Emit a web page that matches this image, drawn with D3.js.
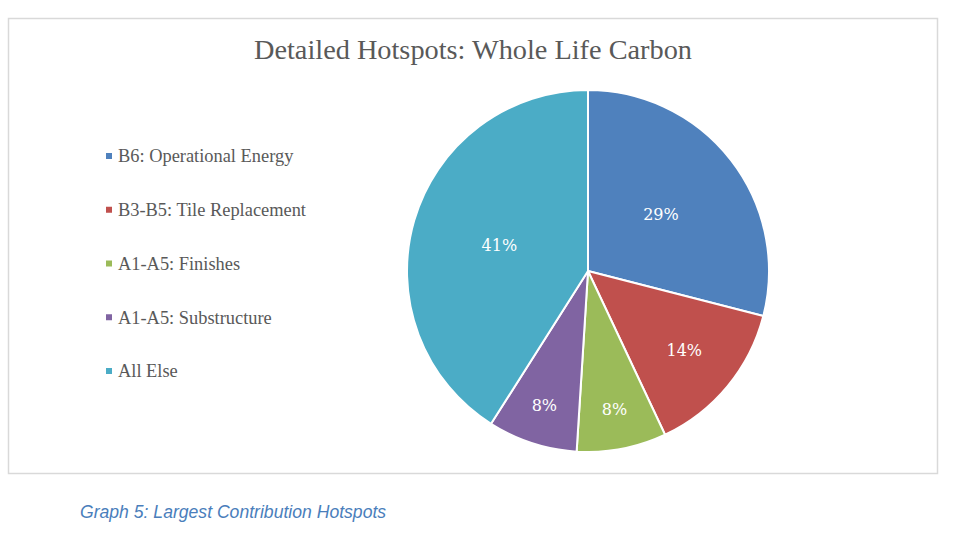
<!DOCTYPE html>
<html>
<head>
<meta charset="utf-8">
<script src="https://cdn.jsdelivr.net/npm/d3@7"></script>
<style>
  html, body { margin: 0; padding: 0; background: #fff; }
  svg { display: block; }
</style>
</head>
<body>
<svg id="chart" width="962" height="536"></svg>
<script>
const categories = [
  "B6: Operational Energy",
  "B3-B5: Tile Replacement",
  "A1-A5: Finishes",
  "A1-A5: Substructure",
  "All Else"
];
const values = [29, 14, 8, 8, 41];
const colors = ["#4F81BD", "#C0504D", "#9BBB59", "#8064A2", "#4BACC6"];
const title = "Detailed Hotspots: Whole Life Carbon";
const caption = "Graph 5: Largest Contribution Hotspots";

const svg = d3.select("#chart");

// chart frame
svg.append("rect")
  .attr("x", 8.5).attr("y", 18.5)
  .attr("width", 929).attr("height", 455)
  .attr("fill", "#fff")
  .attr("stroke", "#d9d9d9")
  .attr("stroke-width", 1.5);

// title
svg.append("text")
  .attr("x", 473).attr("y", 59)
  .attr("text-anchor", "middle")
  .attr("font-family", "'Liberation Serif', serif")
  .attr("font-size", 28.3)
  .attr("fill", "#595959")
  .text(title);

// pie
const cx = 588, cy = 271, r = 181;
const pie = d3.pie().sort(null).value(d => d.value);
const data = categories.map((c, i) => ({ name: c, value: values[i], color: colors[i] }));
const arcs = pie(data);
const arc = d3.arc().innerRadius(0).outerRadius(r);
const total = d3.sum(values);

g = svg.append("g").attr("transform", `translate(${cx},${cy})`);
g.selectAll("path.slice")
  .data(arcs)
  .join("path")
  .attr("class", "slice")
  .attr("d", arc)
  .attr("fill", d => d.data.color)
  .attr("stroke", "#fff")
  .attr("stroke-width", 2)
  .attr("stroke-linejoin", "round");

// "best fit" label placement: small slices push their label outward
function labelRadius(d) {
  const share = d.data.value / total;
  return r * Math.max(0.51, 0.9 - 1.5 * share);
}
const fmt = d3.format(".0%");
g.selectAll("text.lbl")
  .data(arcs)
  .join("text")
  .attr("class", "lbl")
  .attr("transform", d => {
    const lr = labelRadius(d);
    const [x, y] = d3.arc().innerRadius(lr).outerRadius(lr).centroid(d);
    return `translate(${x},${y})`;
  })
  .attr("text-anchor", "middle")
  .attr("dy", "0.35em")
  .attr("font-family", "'DejaVu Serif', serif")
  .attr("font-size", 16)
  .attr("fill", "#fff")
  .text(d => fmt(d.data.value / total));

// legend
const ly = d3.scalePoint().domain(categories).range([156, 371]);
const leg = svg.append("g").selectAll("g")
  .data(data)
  .join("g")
  .attr("transform", d => `translate(106,${ly(d.name)})`);
leg.append("rect")
  .attr("x", 0).attr("y", -3)
  .attr("width", 6).attr("height", 6)
  .attr("fill", d => d.color);
leg.append("text")
  .attr("x", 12).attr("dy", "0.35em")
  .attr("font-family", "'Liberation Serif', serif")
  .attr("font-size", 18.4)
  .attr("fill", "#595959")
  .text(d => d.name);

// caption
svg.append("text")
  .attr("x", 80).attr("y", 518)
  .attr("font-family", "'Liberation Sans', Arial, sans-serif")
  .attr("font-style", "italic")
  .attr("font-size", 17.6)
  .attr("fill", "#4A7EBB")
  .text(caption);
</script>
</body>
</html>
